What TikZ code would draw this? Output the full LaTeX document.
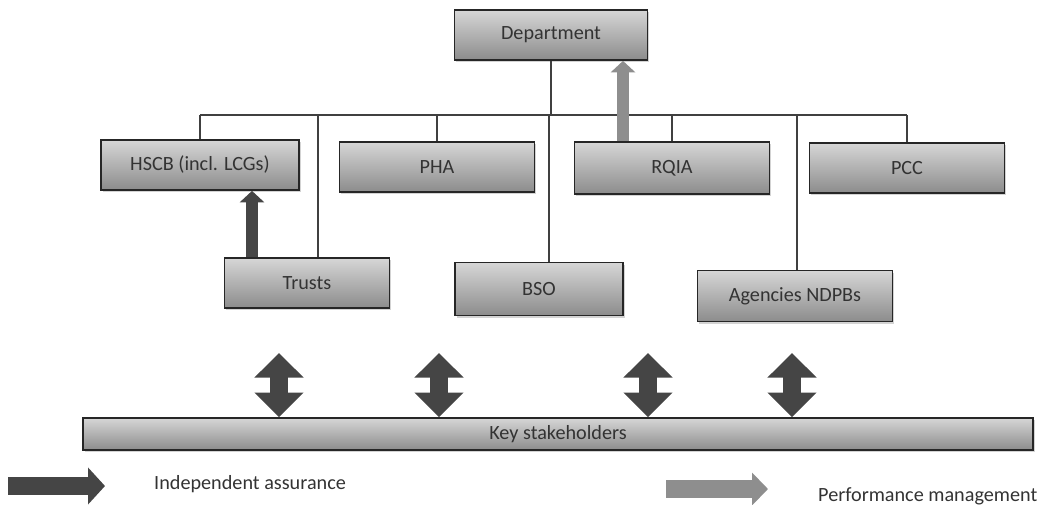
\documentclass[tikz,border=0pt]{standalone}
\usepackage{fontspec}
\setmainfont{Carlito}
\usetikzlibrary{arrows.meta,shadows}
\definecolor{boxtop}{HTML}{D6D6D6}
\definecolor{boxbot}{HTML}{8C8C8C}
\definecolor{txtgray}{HTML}{333333}
\definecolor{darkarr}{HTML}{454545}
\definecolor{lightarr}{HTML}{8E8E8E}
\begin{document}
\begin{tikzpicture}[x=0.02cm, y=-0.02cm,
  every node/.style={font=\fontsize{11.5}{13}\selectfont, text=txtgray},
  unit/.style={draw=black!85, line width=1pt, top color=boxtop, bottom color=boxbot,
    minimum width=3.9cm, minimum height=1cm, inner sep=0pt,
    drop shadow={shadow xshift=0.9pt, shadow yshift=-1.3pt, opacity=0.35}},
  link/.style={draw=black!75, line width=0.6pt},
  assure/.style={draw=darkarr, line width=6.8pt, -{Triangle[width=13.6pt, length=6.5pt]}},
  perform/.style={draw=lightarr, line width=6.8pt, -{Triangle[width=13.6pt, length=6.5pt]}},
  twoway/.style={draw=darkarr, line width=10.2pt,
    {Triangle[width=27.2pt, length=14pt]}-{Triangle[width=27.2pt, length=14pt]}}]
  \useasboundingbox (0,0) rectangle (1057,504);

  % organisations
  \node[unit, minimum width=3.86cm] (dept) at (551,35) {Department};
  \node[unit, minimum width=3.96cm] (hscb) at (200,165) {HSCB (incl. LCGs)};
  \node[unit] (pha) at (437,167) {PHA};
  \node[unit, minimum height=1.04cm] (rqia) at (672,168) {RQIA};
  \node[unit] (pcc) at (907,168) {PCC};
  \node[unit, minimum width=3.3cm] (trusts) at (307,283) {Trusts};
  \node[unit, minimum width=3.36cm, minimum height=1.06cm] (bso) at (539,289) {BSO};
  \node[unit, minimum height=1.02cm] (agency) at (795,296) {Agencies NDPBs};
  \node[unit, minimum width=19cm, minimum height=0.64cm] (key) at (558,434) {Key stakeholders};

  % reporting lines
  \coordinate (bus) at (0,115);
  \draw[link] (hscb.north |- bus) -- (pcc.north |- bus);
  \draw[link] (dept.south) -- (dept.south |- bus);
  \draw[link] (hscb.north) -- (hscb.north |- bus);
  \draw[link] (pha.north) -- (pha.north |- bus);
  \draw[link] (rqia.north) -- (rqia.north |- bus);
  \draw[link] (pcc.north) -- (pcc.north |- bus);
  \draw[link] ([xshift=0.22cm]trusts.north) -- ([xshift=0.22cm]trusts.north |- bus);
  \draw[link] ([xshift=0.2cm]bso.north) -- ([xshift=0.2cm]bso.north |- bus);
  \draw[link] ([xshift=0.04cm]agency.north) -- ([xshift=0.04cm]agency.north |- bus);

  % assurance and performance
  \draw[assure] ([xshift=-1.1cm]trusts.north) -- ([xshift=-1.1cm]trusts.north |- hscb.south);
  \draw[perform] ([xshift=-0.98cm]rqia.north) -- ([xshift=-0.98cm]rqia.north |- dept.south);

  % two-way links to stakeholders
  \foreach \xx in {279,439,648,792}
    \draw[twoway] (\xx,353) -- (key.north -| \xx,0);

  % legend
  \coordinate (ia-start) at (8,486);
  \coordinate (ia-end) at (105,486);
  \draw[draw=darkarr, line width=10.2pt, -{Triangle[width=20.4pt, length=9.6pt]}] (ia-start) -- (ia-end);
  \node[anchor=west] (ia) at (148,484) {Independent assurance};
  \coordinate (pm-start) at (666,489);
  \coordinate (pm-end) at (768,489);
  \draw[draw=lightarr, line width=10.2pt, -{Triangle[width=18pt, length=9pt]}] (pm-start) -- (pm-end);
  \node[anchor=west] (pm) at (812,496) {Performance management};
\end{tikzpicture}
\end{document}
